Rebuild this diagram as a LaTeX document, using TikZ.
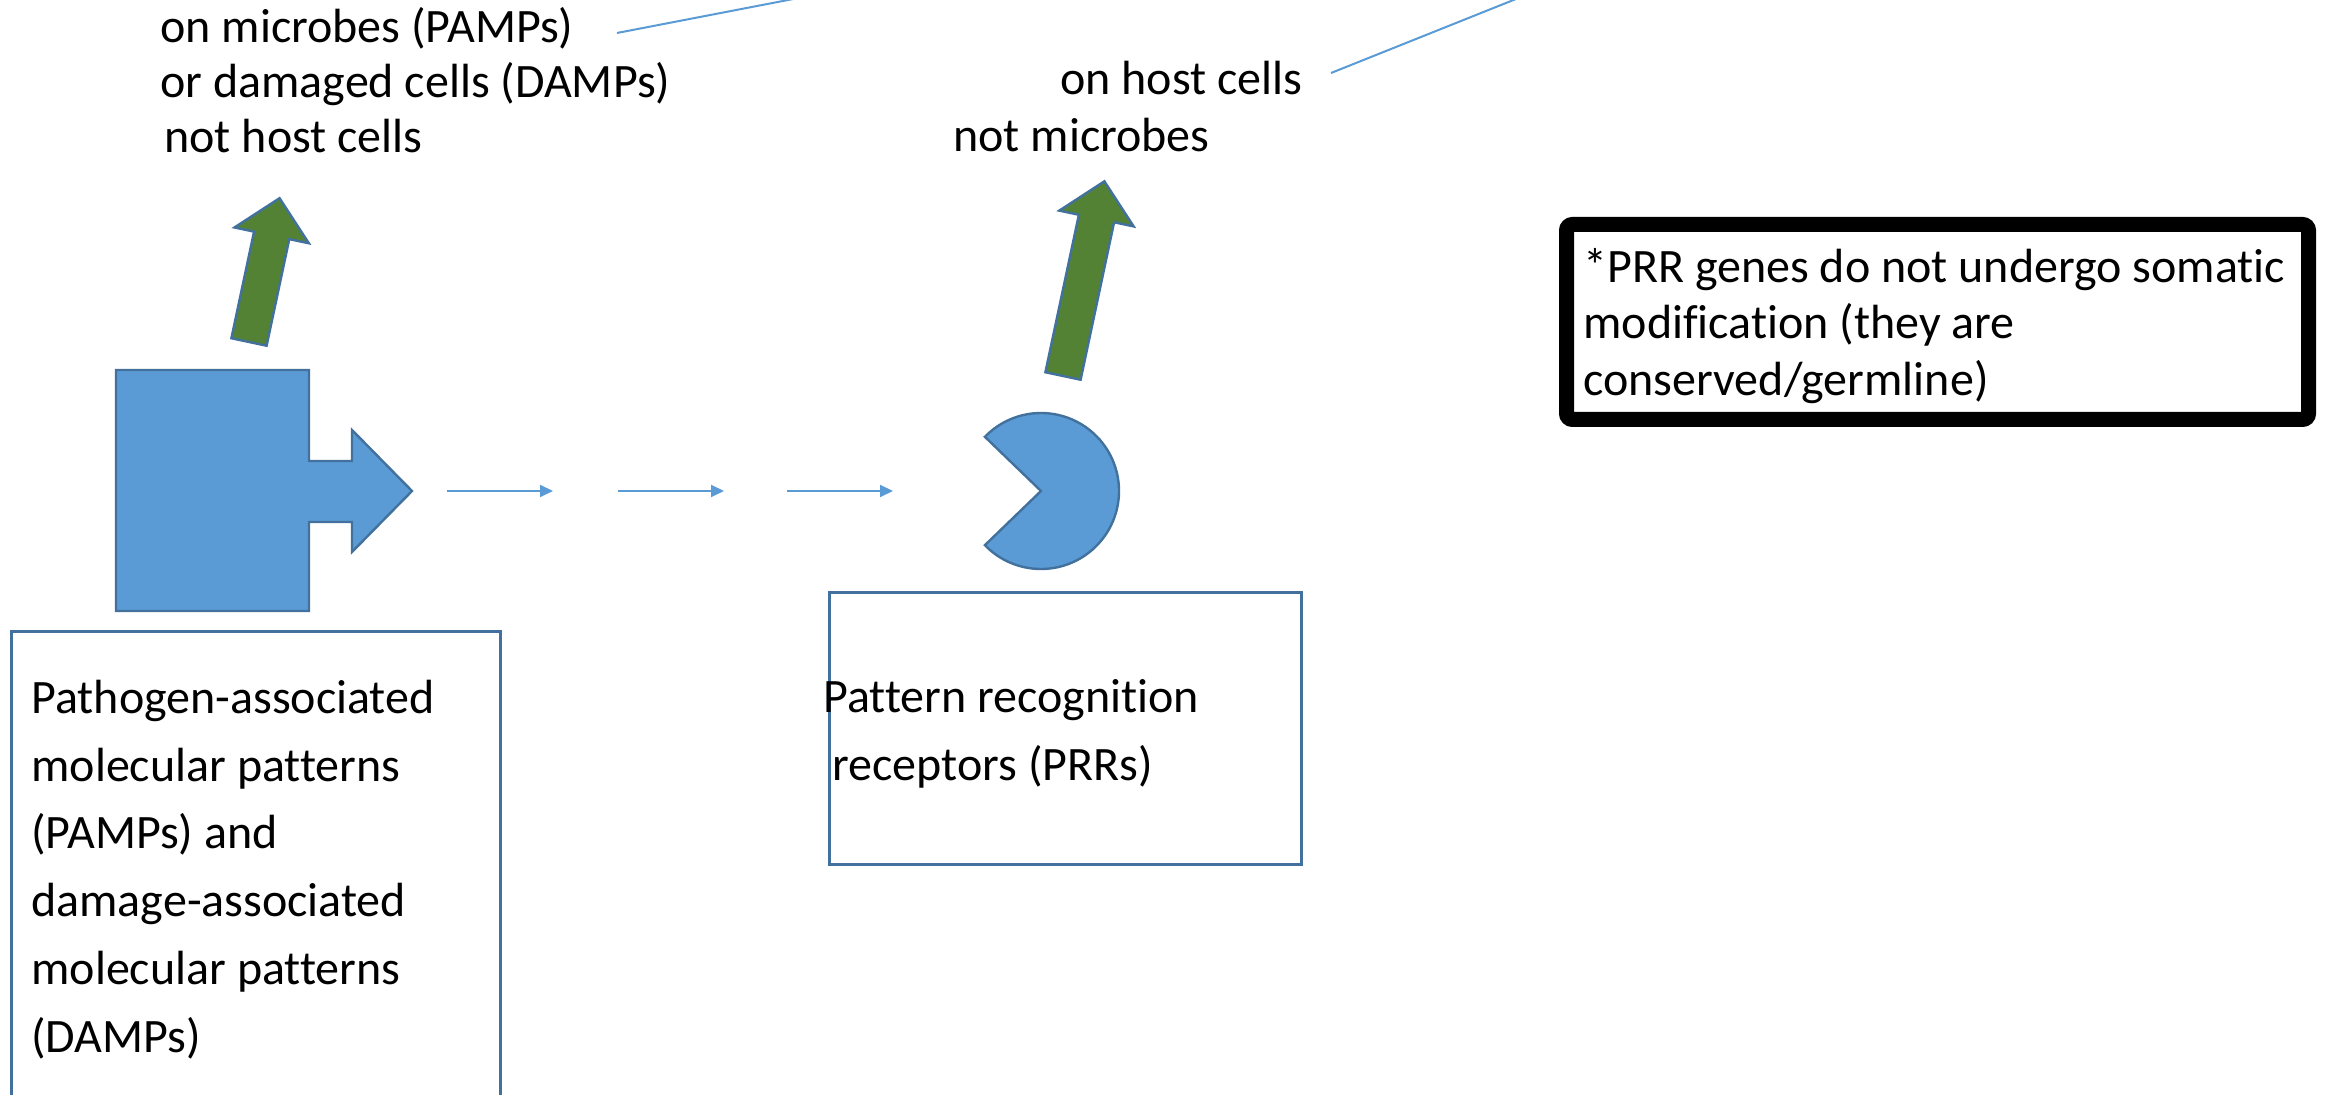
\documentclass[tikz,border=0pt]{standalone}
\usepackage{fontspec}
\setmainfont{Carlito}[Ligatures=NoCommon]
\usetikzlibrary{positioning,arrows.meta}
\definecolor{shapeblue}{HTML}{5B9BD5}
\definecolor{edgeblue}{HTML}{41719C}
\definecolor{leafgreen}{HTML}{548235}

\begin{document}
\begin{tikzpicture}[x=0.5pt, y=-0.5pt,
    txt/.style={inner sep=0pt, anchor=north west, align=left, font=\fontsize{24}{#1}\selectfont},
    txt/.default=28.3,
    word/.style={inner sep=0pt, anchor=base west, font=\fontsize{24}{28.3}\selectfont},
    frame/.style={draw=edgeblue, line width=1.3pt, anchor=north west, inner sep=0pt},
    blob/.style={fill=shapeblue, draw=edgeblue, line width=1.2pt, line join=miter},
    recog/.style={fill=leafgreen, draw=edgeblue, line width=1.2pt},
    signal/.style={draw=shapeblue, line width=1pt, -{Triangle[length=6.5pt, width=6pt]}},
    pointer/.style={draw=shapeblue, line width=1pt}]
  \useasboundingbox (0,0) rectangle (2331,1095);
  \clip (0,0) rectangle (2331,1095);

  % labels above the two shapes
  \node[txt=27.5] (pampnote) at (160,3.5) {\strut on microbes (PAMPs)\\or damaged cells (DAMPs)\\\hspace{2pt}not host cells};
  \node[word] (hostnote) at (1060,95) {on host cells};
  \node[word] (nomicnote) at (953,152) {not microbes};

  \coordinate (pampend) at (617,33);
  \coordinate (pampup) at (840,-10);
  \coordinate (hostend) at (1331,73);
  \coordinate (hostup) at (1541,-11);
  \draw[pointer] (pampend) -- (pampup);
  \draw[pointer] (hostend) -- (hostup);

  % green arrows
  \foreach \bx/\by/\len in {249/342/147, 1063/376/199} {
    \begin{scope}[shift={(\bx,\by)}, rotate=-12]
      \draw[recog] (-18,0) -- (-18,-\len+38) -- (-38,-\len+38) -- (0,-\len)
        -- (38,-\len+38) -- (18,-\len+38) -- (18,0) -- cycle;
    \end{scope}
  }

  % PAMP shape
  \draw[blob] (116,370) -- (309,370) -- (309,461) -- (352,461) -- (352,430)
    -- (412,491) coordinate (pamptip) -- (352,552) -- (352,522) -- (309,522)
    -- (309,611) -- (116,611) -- cycle;

  % PRR receptor
  \draw[blob] (1041,491) coordinate (prr) -- ++(136:78)
    arc[start angle=136, end angle=-136, radius=78] -- cycle;

  % signal arrows
  \foreach \s [count=\i] in {447,618,787} {
    \coordinate (sig\i a) at (\s,491);
    \coordinate (sig\i b) at (\s+106,491);
    \draw[signal] (sig\i a) -- (sig\i b);
  }

  % boxes
  \node[frame, minimum width=244.5pt, minimum height=242pt] (pampbox) at (10,630) {};
  \node[txt=33.9] (pamptext) at (31,665.5) {\strut Pathogen-associated\\molecular patterns\\(PAMPs) and\\damage-associated\\molecular patterns\\(DAMPs)};

  \node[frame, minimum width=236pt, minimum height=136pt] (prrbox) at (828,591) {};
  \node[txt=34] (prrtext) at (823,664.4) {\strut Pattern recognition\\\hspace{4.5pt}receptors (PRRs)};

  \node[draw, line width=7.5pt, rounded corners=3pt, anchor=north west, inner sep=0pt,
        minimum width=371pt, minimum height=97.5pt] (germbox) at (1559,217) {};
  \node[txt=28.3] (germtext) at (1583,242) {\strut *PRR genes do not undergo somatic\\modification (they are\\conserved/germline)};
\end{tikzpicture}
\end{document}
